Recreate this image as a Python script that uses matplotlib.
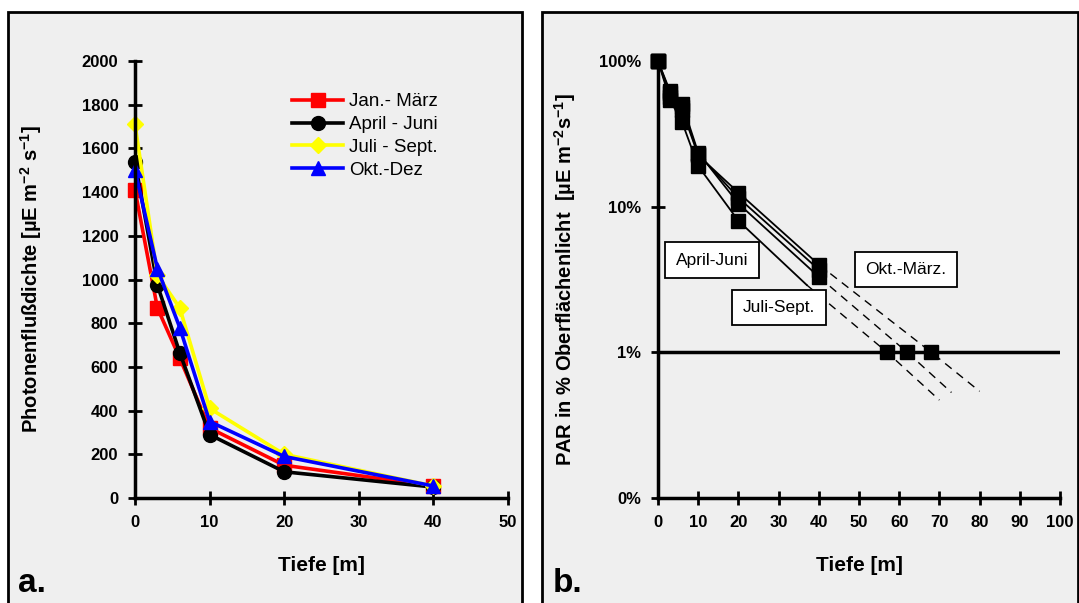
import matplotlib
matplotlib.use("Agg")
from matplotlib import pyplot as plt
from matplotlib.patches import Rectangle

plt.rcParams['font.family'] = ['Liberation Sans', 'DejaVu Sans']
plt.rcParams['mathtext.fontset'] = 'custom'
plt.rcParams['mathtext.rm'] = 'Liberation Sans'
plt.rcParams['mathtext.bf'] = 'Liberation Sans:bold'

# panel a: photon flux density by depth
depth = [0, 3, 6, 10, 20, 40]
jan_maerz = [1410, 870, 640, 320, 150, 55]
april_juni = [1540, 975, 665, 290, 120, 50]
juli_sept = [1710, 1020, 870, 410, 200, 55]
okt_dez = [1500, 1050, 780, 350, 190, 55]
season_names = ['Jan.- März', 'April - Juni', 'Juli - Sept.', 'Okt.-Dez']

# panel b: PAR in % of surface light
pct_jan = [100, 60, 46, 22.5, 12.5, 4.0]
pct_okt = [100, 62, 48, 23, 11.5, 3.7]
pct_juli = [100, 57, 51, 23.5, 10.5, 3.3]
pct_april = [100, 54, 38, 19, 8.0]

# extrapolated lines (depth, percent): solid part, dashed part
april_solid_x = [20, 37]
april_solid_y = [8.0, 2.9]
ext_x = [[37, 57, 70], [40, 62, 73], [40, 68, 80]]
ext_y = [[2.9, 1, 0.47], [3.3, 1, 0.53], [4.0, 1, 0.54]]
depth_1pct = [57, 62, 68]
box_names = ['April-Juni', 'Juli-Sept.', 'Okt.-März.']
box_x = [13.4, 30.1, 61.7]
box_y = [4.3, 2.03, 3.7]

W, H = 1079, 603
fig = plt.figure(figsize=(W / 100, H / 100), dpi=100)
fig.patch.set_facecolor('white')

# panel frames
for x0, x1 in [(8, 522), (542, 1078)]:
    fig.patches.append(Rectangle((x0 / W, -0.05), (x1 - x0) / W, 1.05 - 12 / H,
                                 transform=fig.transFigure, facecolor='#efefef',
                                 edgecolor='black', linewidth=2, zorder=-5))


def style(ax):
    ax.set_facecolor('none')
    for s in ['top', 'right']:
        ax.spines[s].set_visible(False)
    for s in ['left', 'bottom']:
        ax.spines[s].set_linewidth(2.5)
    ax.tick_params(direction='inout', length=10, width=2, labelsize=12, pad=7)
    for lab in ax.get_xticklabels() + ax.get_yticklabels():
        lab.set_fontweight('bold')


# ---- panel a
ax = fig.add_axes([135 / W, 1 - 498 / H, 373 / W, 437 / H])
ax.plot(depth, jan_maerz, color='red', marker='s', ms=10, lw=2.6, label=season_names[0], clip_on=False)
ax.plot(depth, april_juni, color='black', marker='o', ms=10, lw=2.6, label=season_names[1], clip_on=False)
ax.plot(depth, juli_sept, color='yellow', marker='D', ms=8, lw=2.6, label=season_names[2], clip_on=False)
ax.plot(depth, okt_dez, color='blue', marker='^', ms=10, lw=2.6, label=season_names[3], clip_on=False)
ax.set_xlim(0, 50)
ax.set_ylim(0, 2000)
ax.set_xticks(range(0, 51, 10))
ax.set_yticks(range(0, 2001, 200))
style(ax)
ax.set_xlabel('Tiefe [m]', fontsize=15, fontweight='bold', labelpad=19)
ax.set_ylabel(r'Photonenflußdichte [µE m$^{\mathbf{-2}}$ s$^{\mathbf{-1}}$]',
              fontsize=14.5, fontweight='bold')
ax.yaxis.set_label_coords((44 - 135) / 373, 0.5)
ax.legend(loc='upper left', bbox_to_anchor=(283 / W, 1 - 84 / H),
          bbox_transform=fig.transFigure, frameon=False, fontsize=13.5,
          handlelength=2.7, labelspacing=0.3, handletextpad=0.3, borderpad=0)
fig.text(18 / W, 1 - 592 / H, 'a.', fontsize=24, fontweight='bold')

# ---- panel b
bx = fig.add_axes([658 / W, 1 - 498 / H, 402 / W, 437 / H])
bx.set_yscale('log')
bx.axhline(1, color='black', lw=2.5, zorder=2)
for vals in [pct_jan, pct_okt, pct_juli]:
    bx.plot(depth, vals, color='black', marker='s', ms=10.5, lw=1.3, clip_on=False, zorder=3)
bx.plot(depth[:5], pct_april, color='black', marker='s', ms=10.5, lw=1.3, clip_on=False, zorder=3)
bx.plot(april_solid_x, april_solid_y, color='black', lw=1.3, zorder=3)
for xs, ys in zip(ext_x, ext_y):
    bx.plot(xs, ys, color='black', lw=1, dashes=(6, 4.5), zorder=3)
bx.plot(depth_1pct, [1] * len(depth_1pct), 's', color='black', ms=10.5, zorder=4)
for name, x, y in zip(box_names, box_x, box_y):
    bx.text(x, y, name, fontsize=12.5, ha='center', va='center', zorder=5,
            bbox=dict(boxstyle='square,pad=0.6', facecolor='white', edgecolor='black', lw=1.3))
bx.set_xlim(0, 100)
bx.set_ylim(0.1, 100)
bx.set_xticks(range(0, 101, 10))
bx.set_yticks([0.1, 1, 10, 100])
bx.set_yticklabels(['0%', '1%', '10%', '100%'])
bx.minorticks_off()
style(bx)
bx.set_xlabel('Tiefe [m]', fontsize=15, fontweight='bold', labelpad=19)
bx.set_ylabel(r'PAR in % Oberflächenlicht  [µE m$^{\mathbf{-2}}$s$^{\mathbf{-1}}$]',
              fontsize=14.5, fontweight='bold')
bx.yaxis.set_label_coords((578 - 658) / 402, 0.5)
fig.text(553 / W, 1 - 592 / H, 'b.', fontsize=24, fontweight='bold')

fig.savefig('out.png', dpi=100)
